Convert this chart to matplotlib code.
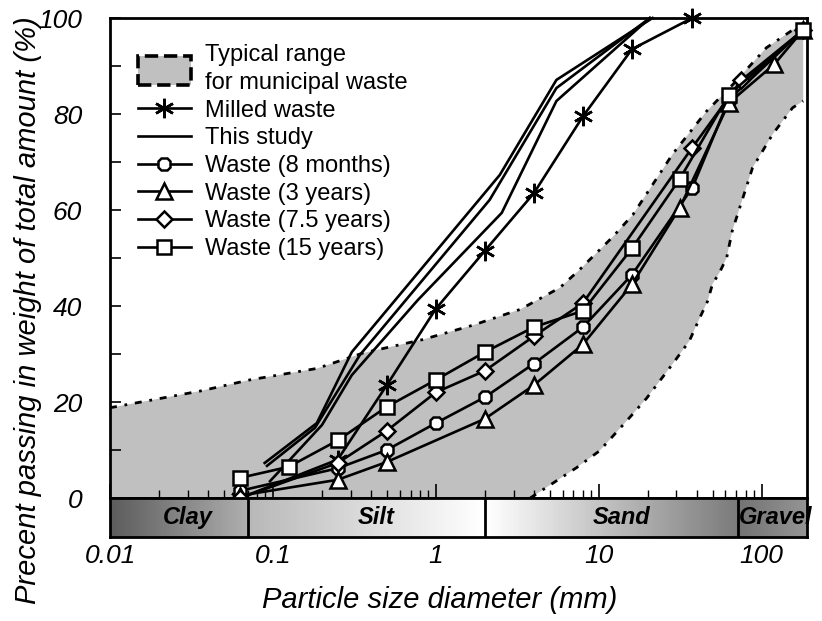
import numpy as np
import matplotlib
matplotlib.use("Agg")
import matplotlib.pyplot as plt
import matplotlib.patches as mpatches
from matplotlib.lines import Line2D
from matplotlib.legend_handler import HandlerPatch

plt.rcParams['font.family'] = ['Liberation Sans', 'DejaVu Sans']

# ---- data -------------------------------------------------------------
# typical range for municipal waste (upper / lower envelope)
range_upper_d = [0.01, 0.036, 0.072, 0.187, 0.357, 0.83, 1.69, 3.3, 5.77, 7.6,
                 12.2, 16.2, 28.5, 46, 66, 107, 180]
range_upper_p = [18.8, 22.3, 24.6, 27, 30.2, 33, 36, 39.3, 43.8, 47.5,
                 54.4, 59, 71.7, 80.6, 86, 93.8, 99]
range_lower_d = [3.8, 7.3, 10.1, 14.8, 19.7, 28.4, 36, 41.7, 46.6, 50, 55,
                 61, 66, 88, 117, 155, 180]
range_lower_p = [0, 6.3, 9.8, 16, 20.8, 27.9, 32.7, 37.5, 41, 44.6, 46.9,
                 50, 55.6, 68.8, 75.8, 81.3, 82.7]

# milled waste
milled_d = [0.063, 0.25, 0.5, 1, 2, 4, 8, 16, 37.5]
milled_p = [0, 8, 23.5, 39.4, 51.5, 63.5, 79.5, 93.5, 100]

# this study (three samples)
study_a_d = [0.089, 0.186, 0.305, 2.47, 5.5, 21.4]
study_a_p = [7.3, 15.6, 30.4, 67.3, 87.1, 100]
study_b_d = [0.092, 0.181, 0.342, 2.14, 5.5, 20.6]
study_b_p = [6.7, 14.6, 29.8, 62.1, 85.4, 100]
study_c_d = [0.096, 0.2, 0.305, 0.776, 2.54, 5.5, 20.6]
study_c_p = [3.5, 15.2, 25.6, 41.25, 59.4, 82.7, 100]

# landfilled waste of different ages
w8m_d = [0.063, 0.25, 0.5, 1, 2, 4, 8, 16, 37.5, 63, 180]
w8m_p = [1.5, 6.2, 10, 15.6, 21, 28, 35.6, 46.5, 64.6, 83, 97.5]
w3y_d = [0.063, 0.25, 0.5, 2, 4, 8, 16, 31.5, 63, 120, 180]
w3y_p = [0.5, 3.8, 7.5, 16.5, 23.5, 32, 44.5, 60.5, 82.3, 90.4, 97.5]
w75y_d = [0.063, 0.25, 0.5, 1, 2, 4, 8, 37.5, 75, 180]
w75y_p = [0, 7.3, 14, 22, 26.5, 33.7, 40.6, 73, 87, 97.5]
w15y_d = [0.063, 0.125, 0.25, 0.5, 1, 2, 4, 8, 16, 31.5, 63, 180]
w15y_p = [4.2, 6.5, 12, 19, 24.6, 30.4, 35.6, 39, 52, 66.5, 84, 97.5]

# soil classes along the size axis
class_names = ['Clay', 'Silt', 'Sand', 'Gravel']
class_edges = [0.01, 0.07, 2.0, 72, 190]
class_shade = [(0.36, 0.68), (0.72, 1.0), (1.0, 0.48), (0.45, 0.58)]
class_label_x = [0.03, 0.43, 13.8, 73]

x_ticks = [0.01, 0.1, 1, 10, 100]
x_tick_labels = ['0.01', '0.1', '1', '10', '100']
y_ticks = [0, 20, 40, 60, 80, 100]

# ---- figure ---------------------------------------------------------
W, H = 822, 621
fig = plt.figure(figsize=(W / 100, H / 100), dpi=100)
ax = fig.add_axes([110 / W, 1 - 498 / H, 697 / W, 480 / H])
band = fig.add_axes([110 / W, 1 - 537 / H, 697 / W, 39 / H])

XMIN, XMAX = 0.01, 190
ax.set_xscale('log')
ax.set_xlim(XMIN, XMAX)
ax.set_ylim(0, 100)

# shaded range
poly_x = list(range_upper_d) + list(range_lower_d[::-1]) + [XMIN]
poly_y = list(range_upper_p) + list(range_lower_p[::-1]) + [0]
ax.fill(poly_x, poly_y, color='#c0c0c0', lw=0, zorder=1)
bound_style = (0, (2.5, 2.8, 1.0, 2.8))
ax.plot(range_upper_d, range_upper_p, color='black', lw=2.0, ls=bound_style, zorder=2)
ax.plot(range_lower_d, range_lower_p, color='black', lw=2.0, ls=bound_style, zorder=2)

lw = 1.9
mk = dict(color='black', lw=lw, markerfacecolor='white', markeredgecolor='black',
          markeredgewidth=1.8, clip_on=False, zorder=4)

for dd, pp in [(study_a_d, study_a_p), (study_b_d, study_b_p), (study_c_d, study_c_p)]:
    ax.plot(dd, pp, color='black', lw=lw, zorder=3, clip_on=False)

ax.plot(milled_d, milled_p, marker=(6, 2, 0), markersize=14, **mk)
ax.plot(w8m_d, w8m_p, marker='8', markersize=10, **mk)
ax.plot(w3y_d, w3y_p, marker='^', markersize=11, **mk)
ax.plot(w75y_d, w75y_p, marker='D', markersize=8, **mk)
ax.plot(w15y_d, w15y_p, marker='s', markersize=10, **mk)

# axes styling
for s in ax.spines.values():
    s.set_linewidth(2)
ax.set_yticks(y_ticks)
ax.set_yticks([10, 30, 50, 70, 90], minor=True)
ax.set_yticklabels([str(v) for v in y_ticks], fontsize=19, style='italic')
ax.tick_params(axis='y', which='both', direction='in', length=8, width=1.2, pad=20)
ax.set_xticks(x_ticks)
ax.tick_params(axis='x', which='major', direction='in', length=10, width=1.2,
               labelbottom=False)
ax.tick_params(axis='x', which='minor', direction='in', length=6, width=1.0)
ax.tick_params(top=False, right=False)

# legend
def tall_rect(legend, orig_handle, xdescent, ydescent, width, height, fontsize):
    return mpatches.Rectangle((-xdescent, -ydescent - 0.45 * height), width, height * 1.75)

range_handle = mpatches.Patch(facecolor='#c0c0c0', edgecolor='black', linestyle='--', linewidth=2.6)
handles = [
    range_handle,
    Line2D([], [], color='black', lw=lw, marker=(6, 2, 0), markersize=14, markeredgewidth=1.8),
    Line2D([], [], color='black', lw=lw),
    Line2D([], [], color='black', lw=lw, marker='8', markersize=10, markerfacecolor='white', markeredgewidth=1.8),
    Line2D([], [], color='black', lw=lw, marker='^', markersize=11, markerfacecolor='white', markeredgewidth=1.8),
    Line2D([], [], color='black', lw=lw, marker='D', markersize=8, markerfacecolor='white', markeredgewidth=1.8),
    Line2D([], [], color='black', lw=lw, marker='s', markersize=10, markerfacecolor='white', markeredgewidth=1.8),
]
labels = ['Typical range\nfor municipal waste', 'Milled waste', 'This study',
          'Waste (8 months)', 'Waste (3 years)', 'Waste (7.5 years)', 'Waste (15 years)']
leg = ax.legend(handles, labels, loc='upper left', bbox_to_anchor=(0.04, 0.946),
                frameon=False, fontsize=17, handlelength=2.25, handletextpad=0.6,
                labelspacing=0.24, borderpad=0, borderaxespad=0, numpoints=1,
                handler_map={mpatches.Patch: HandlerPatch(patch_func=tall_rect)})
leg.get_texts()[0].set_linespacing(1.35)

# soil class band
band.set_xscale('log')
band.set_xlim(XMIN, XMAX)
band.set_ylim(0, 1)
for i, name in enumerate(class_names):
    a, b = class_edges[i], class_edges[i + 1]
    edges = np.geomspace(a, b, 120)
    shade = np.linspace(class_shade[i][0], class_shade[i][1], len(edges) - 1)
    band.pcolormesh(edges, [0, 1], shade[np.newaxis, :], cmap='gray', vmin=0, vmax=1,
                    shading='flat', zorder=1)
    if i > 0:
        band.axvline(a, color='black', lw=2, zorder=2)
    ha = 'left' if name == 'Gravel' else 'center'
    band.text(class_label_x[i], 0.5, name, ha=ha, va='center', fontsize=17,
              fontweight='bold', style='italic', clip_on=False, zorder=3)
for s in band.spines.values():
    s.set_linewidth(2)
band.set_yticks([])
band.set_xticks(x_ticks)
band.set_xticks([], minor=True)
band.set_xticklabels(x_tick_labels, fontsize=19, style='italic')
band.tick_params(axis='x', length=0, pad=5)

fig.text(440 / W, 1 - 600 / H, 'Particle size diameter (mm)', ha='center', va='center',
         fontsize=21, style='italic')
fig.text(28 / W, 1 - 310 / H, 'Precent passing in weight of total amount (%)', ha='center',
         va='center', rotation=90, fontsize=21, style='italic')

fig.savefig('out.png', dpi=100)
